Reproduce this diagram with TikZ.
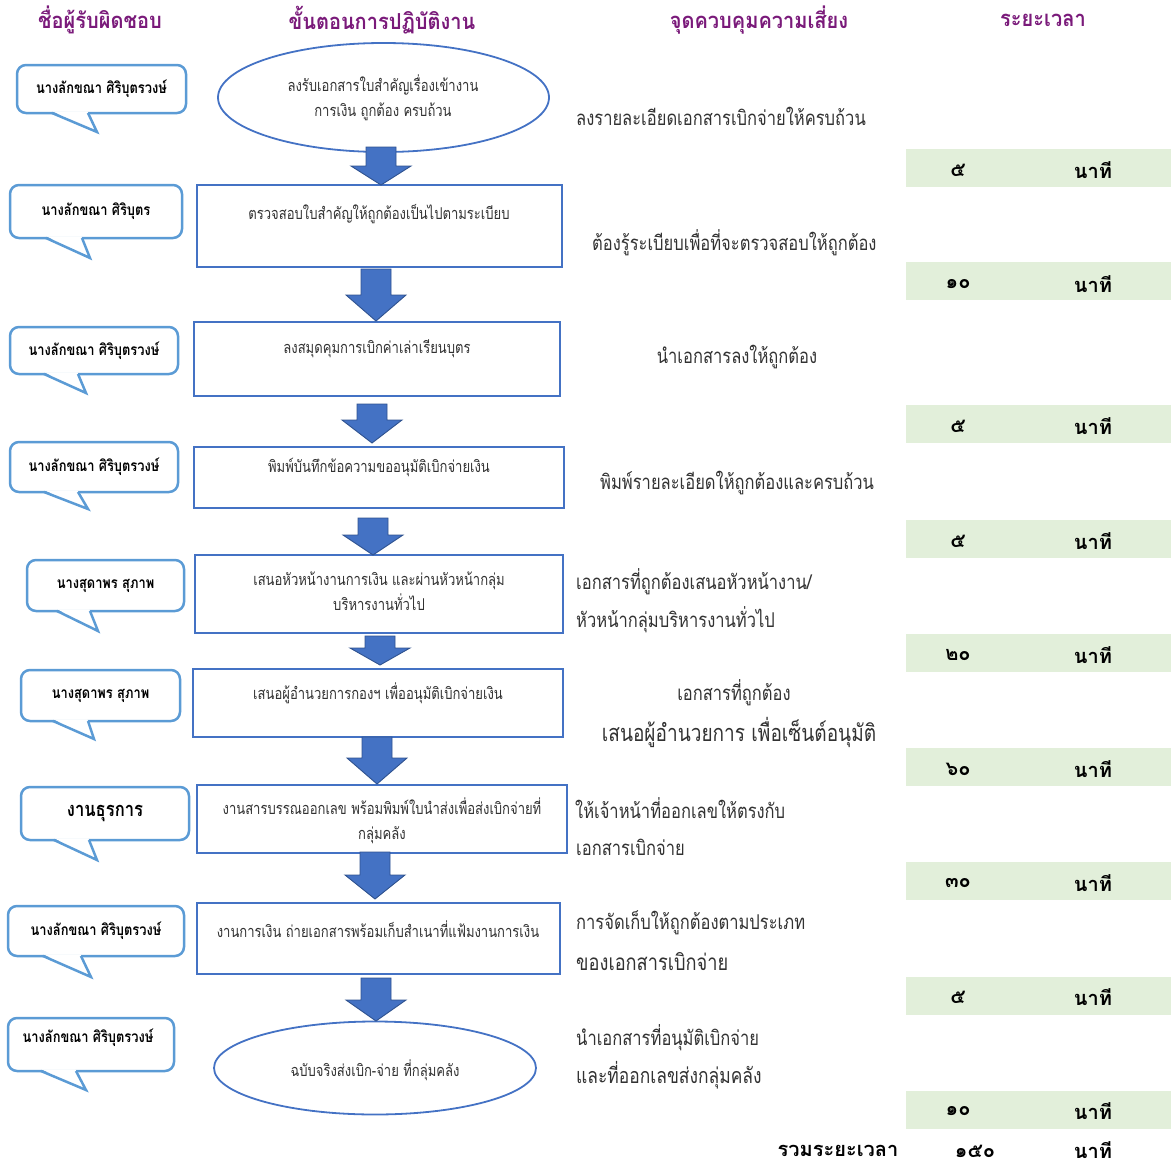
\documentclass[tikz,border=0pt]{standalone}
\usepackage{fontspec}
\setmainfont[Script=Thai]{Loma}
\newfontfamily\stepfont[Script=Thai, FakeStretch=0.80]{Loma}
\newfontfamily\riskfont[Script=Thai, FakeStretch=0.81]{Loma}
\newfontfamily\whofont[Script=Thai, FakeStretch=0.83]{Loma}
\newfontfamily\headfont[Script=Thai, FakeStretch=0.91]{Loma}
\usetikzlibrary{shapes.geometric,calc}

\definecolor{headpurple}{RGB}{122,26,122}
\definecolor{procblue}{RGB}{68,114,196}
\definecolor{arrowdark}{RGB}{47,82,143}
\definecolor{calloutblue}{RGB}{91,155,213}
\definecolor{barfill}{RGB}{226,239,218}
\definecolor{stepgray}{RGB}{50,50,50}

% block arrow between two steps: centre x, top, neck, tip
\newcommand{\flowarrow}[4]{%
  \filldraw[flow] ({#1-15},#2) -- ({#1+15},#2) -- ({#1+15},#3) -- ({#1+30},#3)
    -- (#1,#4) -- ({#1-30},#3) -- ({#1-15},#3) -- cycle;}

% speech-bubble tail under a name box: node, left base, right base, tip
\newcommand{\whotail}[4]{%
  \fill[white] ($(#1.south west)+(#2+0.6,-1.6)$) -- ($(#1.south west)+(#3-0.6,-1.6)$) -- #4 -- cycle;
  \draw[tailline] ($(#1.south west)+(#2,0)$) -- #4 -- ($(#1.south west)+(#3,0)$);}

\begin{document}
\begin{tikzpicture}[x=1pt,y=-1pt,
  head/.style={text=headpurple, font=\headfont\bfseries\fontsize{22}{26}\selectfont, inner sep=0},
  who/.style={draw=calloutblue, line width=2.5pt, rounded corners=9pt, fill=white,
    inner sep=0, outer sep=0, font=\whofont\bfseries\fontsize{15.5}{18}\selectfont},
  whotext/.style={font=\whofont\bfseries\fontsize{15.5}{18}\selectfont, inner sep=0},
  tailline/.style={draw=calloutblue, line width=2.5pt, line join=miter},
  stepbox/.style={draw=procblue, line width=1.8pt, inner sep=0, outer sep=0},
  stepoval/.style={ellipse, draw=procblue, line width=1.8pt, inner sep=0, outer sep=0},
  steptext/.style={text=stepgray, font=\stepfont\fontsize{16.3}{25}\selectfont, align=center, inner sep=0},
  risk/.style={text=stepgray, font=\riskfont\fontsize{20.4}{24}\selectfont, inner sep=0, anchor=west},
  riskc/.style={text=stepgray, font=\riskfont\fontsize{20.4}{24}\selectfont, inner sep=0},
  timebar/.style={fill=barfill, inner sep=0, outer sep=0, minimum width=265pt,
    minimum height=38pt, anchor=north west},
  num/.style={font=\bfseries\fontsize{20}{24}\selectfont, inner sep=0},
  flow/.style={fill=procblue, draw=arrowdark, line width=0.9pt, line join=miter}]

\useasboundingbox (0,0) rectangle (1171,1165);

% column headings
\node[head] (h1) at (100,20) {ชื่อผู้รับผิดชอบ};
\node[head] (h2) at (382,20) {ขั้นตอนการปฏิบัติงาน};
\node[head] (h3) at (759,20) {จุดควบคุมความเสี่ยง};
\node[head] (h4) at (1043,20) {ระยะเวลา};

% time bars
\node[timebar] (t1) at (906,149) {};
\node[timebar] (t2) at (906,262) {};
\node[timebar] (t3) at (906,405) {};
\node[timebar] (t4) at (906,520) {};
\node[timebar] (t5) at (906,634) {};
\node[timebar] (t6) at (906,748) {};
\node[timebar] (t7) at (906,862) {};
\node[timebar] (t8) at (906,977) {};
\node[timebar] (t9) at (906,1091) {};
\foreach \n/\v/\y in {1/๕/170, 2/๑๐/284, 3/๕/426, 4/๕/541, 5/๒๐/655, 6/๖๐/769, 7/๓๐/883, 8/๕/997, 9/๑๐/1111}{
  \node[num] (t\n n) at (958,\y) {\v};
  \node[num] (t\n u) at (1093,\y) {นาที};
}
\node[num] (sumlabel) at (838,1151) {รวมระยะเวลา};
\node[num] (sumval) at (975,1151) {๑๕๐};
\node[num] (sumunit) at (1093,1150) {นาที};

% process steps
\node[stepoval, minimum width=331pt, minimum height=109pt] (p1) at (383.5,97.5) {};
\node[steptext] (p1t) at (383,98) {ลงรับเอกสารใบสำคัญเรื่องเข้างาน\\การเงิน ถูกต้อง ครบถ้วน};
\node[stepbox, minimum width=365pt, minimum height=82pt] (p2) at (379.5,226) {};
\node[steptext] (p2t) at (379,214) {ตรวจสอบใบสำคัญให้ถูกต้องเป็นไปตามระเบียบ};
\node[stepbox, minimum width=366pt, minimum height=74pt] (p3) at (377,359) {};
\node[steptext] (p3t) at (377,349) {ลงสมุดคุมการเบิกค่าเล่าเรียนบุตร};
\node[stepbox, minimum width=370pt, minimum height=61pt] (p4) at (379,477.5) {};
\node[steptext] (p4t) at (379,467) {พิมพ์บันทึกข้อความขออนุมัติเบิกจ่ายเงิน};
\node[stepbox, minimum width=368pt, minimum height=78pt] (p5) at (379,594) {};
\node[steptext] (p5t) at (379,591) {เสนอหัวหน้างานการเงิน และผ่านหัวหน้ากลุ่ม\\บริหารงานทั่วไป};
\node[stepbox, minimum width=370pt, minimum height=68pt] (p6) at (378,703) {};
\node[steptext] (p6t) at (378,693) {เสนอผู้อำนวยการกองฯ เพื่ออนุมัติเบิกจ่ายเงิน};
\node[stepbox, minimum width=370pt, minimum height=68pt] (p7) at (382,819) {};
\node[steptext] (p7t) at (382,820.5) {งานสารบรรณออกเลข พร้อมพิมพ์ใบนำส่งเพื่อส่งเบิกจ่ายที่\\กลุ่มคลัง};
\node[stepbox, minimum width=363pt, minimum height=71pt] (p8) at (378.5,938.5) {};
\node[steptext] (p8t) at (378,929) {งานการเงิน ถ่ายเอกสารพร้อมเก็บสำเนาที่แฟ้มงานการเงิน};
\node[stepoval, minimum width=322pt, minimum height=93pt] (p9) at (375,1068) {};
\node[steptext] (p9t) at (375,1070) {ฉบับจริงส่งเบิก-จ่าย ที่กลุ่มคลัง};

% arrows between steps
\flowarrow{381}{147}{166}{185}
\flowarrow{376}{269}{295}{321}
\flowarrow{372}{404}{420}{443}
\flowarrow{373}{518}{535}{555}
\flowarrow{380}{636}{648}{665}
\flowarrow{377}{737}{758}{784}
\flowarrow{375}{852}{875}{899}
\flowarrow{376}{978}{1000}{1021}

% persons in charge
\node[who, minimum width=169pt, minimum height=48pt] (w1) at (101.5,89) {นางลักขณา ศิริบุตรวงษ์};
\whotail{w1}{35}{71}{(97,132)}
\node[who, minimum width=172pt, minimum height=53pt] (w2) at (96,211.5) {นางลักขณา ศิริบุตร};
\whotail{w2}{36}{72}{(90,258)}
\node[who, minimum width=168pt, minimum height=47pt] (w3) at (94,350.5) {นางลักขณา ศิริบุตรวงษ์};
\whotail{w3}{34}{68}{(86,393)}
\node[who, minimum width=168pt, minimum height=50pt] (w4) at (94,467) {นางลักขณา ศิริบุตรวงษ์};
\whotail{w4}{34}{68}{(88,509)}
\node[who, minimum width=157pt, minimum height=51pt] (w5) at (105.5,585.5) {นางสุดาพร สุภาพ};
\whotail{w5}{30}{63}{(98,631)}
\node[who, minimum width=159pt, minimum height=51pt] (w6) at (100.5,695.5) {นางสุดาพร สุภาพ};
\whotail{w6}{32}{67}{(94,739)}
\node[who, minimum width=168pt, minimum height=53pt, font=\whofont\bfseries\fontsize{20}{24}\selectfont] (w7) at (105,813.5) {งานธุรการ};
\whotail{w7}{33}{68}{(97,860)}
\node[who, minimum width=176pt, minimum height=50pt] (w8) at (96,931) {นางลักขณา ศิริบุตรวงษ์};
\whotail{w8}{35}{73}{(91,977)}
\node[who, minimum width=166pt, minimum height=53pt] (w9) at (91,1044.5) {};
\whotail{w9}{33}{68}{(86,1090)}
\node[whotext] (w9t) at (88,1038) {นางลักขณา ศิริบุตรวงษ์};

% risk control points
\node[risk] (r1) at (576,116) {ลงรายละเอียดเอกสารเบิกจ่ายให้ครบถ้วน};
\node[risk] (r2) at (592,243) {ต้องรู้ระเบียบเพื่อที่จะตรวจสอบให้ถูกต้อง};
\node[riskc] (r3) at (737,357) {นำเอกสารลงให้ถูกต้อง};
\node[risk] (r4) at (600,483) {พิมพ์รายละเอียดให้ถูกต้องและครบถ้วน};
\node[risk] (r5a) at (576,582) {เอกสารที่ถูกต้องเสนอหัวหน้างาน/};
\node[risk] (r5b) at (576,620) {หัวหน้ากลุ่มบริหารงานทั่วไป};
\node[riskc] (r6a) at (734,693) {เอกสารที่ถูกต้อง};
\node[riskc, font=\riskfont\fontsize{23.5}{28}\selectfont] (r6b) at (739,732) {เสนอผู้อำนวยการ เพื่อเซ็นต์อนุมัติ};
\node[risk] (r7a) at (575,808) {ให้เจ้าหน้าที่ออกเลขให้ตรงกับ};
\node[risk] (r7b) at (576,847) {เอกสารเบิกจ่าย};
\node[risk] (r8a) at (576,923) {การจัดเก็บให้ถูกต้องตามประเภท};
\node[risk, font=\riskfont\fontsize{22.5}{26}\selectfont] (r8b) at (576,962) {ของเอกสารเบิกจ่าย};
\node[risk] (r9a) at (576,1038) {นำเอกสารที่อนุมัติเบิกจ่าย};
\node[risk, font=\riskfont\fontsize{21.5}{25}\selectfont] (r9b) at (576,1075) {และที่ออกเลขส่งกลุ่มคลัง};

\end{tikzpicture}
\end{document}
